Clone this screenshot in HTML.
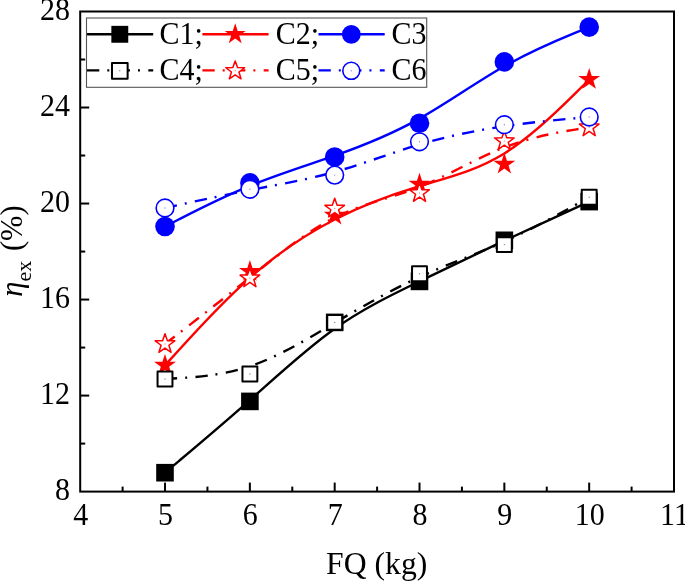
<!DOCTYPE html>
<html><head><meta charset="utf-8"><style>
html,body{margin:0;padding:0;background:#fff;width:685px;height:582px;overflow:hidden;}
svg{display:block;will-change:transform;}
text{font-family:"Liberation Serif",serif;}
</style></head><body>
<svg width="685" height="582" viewBox="0 0 685 582"><rect width="685" height="582" fill="#fff"/><path d="M165.00 472.70 C165.00 472.70 165.00 472.70 179.15 460.82 C193.30 448.93 221.60 425.17 249.88 400.12 C278.17 375.07 306.43 348.73 334.70 328.73 C362.97 308.73 391.23 295.07 419.51 281.38 C447.78 267.70 476.07 254.00 504.35 240.70 C532.63 227.40 560.92 214.50 575.06 208.05 C589.20 201.60 589.20 201.60 589.20 201.60" fill="none" stroke="#000" stroke-width="2.4"/>
<rect x="156.20" y="463.90" width="17.6" height="17.6" fill="#000"/>
<rect x="241.10" y="392.60" width="17.6" height="17.6" fill="#000"/>
<rect x="325.90" y="313.60" width="17.6" height="17.6" fill="#000"/>
<rect x="410.70" y="272.60" width="17.6" height="17.6" fill="#000"/>
<rect x="495.55" y="231.50" width="17.6" height="17.6" fill="#000"/>
<rect x="580.40" y="192.80" width="17.6" height="17.6" fill="#000"/>
<path d="M165.00 365.40 C165.00 365.40 165.00 365.40 179.15 349.75 C193.30 334.10 221.60 302.80 249.88 277.78 C278.17 252.77 306.43 234.03 334.70 219.48 C362.97 204.93 391.23 194.57 419.51 186.05 C447.78 177.53 476.07 170.87 504.35 153.42 C532.63 135.97 560.92 107.73 575.06 93.62 C589.20 79.50 589.20 79.50 589.20 79.50" fill="none" stroke="#f00" stroke-width="2.4"/>
<polygon points="165.00,353.90 167.58,361.85 175.94,361.85 169.18,366.76 171.76,374.70 165.00,369.79 158.24,374.70 160.82,366.76 154.06,361.85 162.42,361.85" fill="#f00"/>
<polygon points="249.90,260.00 252.48,267.95 260.84,267.95 254.08,272.86 256.66,280.80 249.90,275.89 243.14,280.80 245.72,272.86 238.96,267.95 247.32,267.95" fill="#f00"/>
<polygon points="334.70,203.80 337.28,211.75 345.64,211.75 338.88,216.66 341.46,224.60 334.70,219.69 327.94,224.60 330.52,216.66 323.76,211.75 332.12,211.75" fill="#f00"/>
<polygon points="419.50,172.70 422.08,180.65 430.44,180.65 423.68,185.56 426.26,193.50 419.50,188.59 412.74,193.50 415.32,185.56 408.56,180.65 416.92,180.65" fill="#f00"/>
<polygon points="504.35,152.70 506.93,160.65 515.29,160.65 508.53,165.56 511.11,173.50 504.35,168.59 497.59,173.50 500.17,165.56 493.41,160.65 501.77,160.65" fill="#f00"/>
<polygon points="589.20,68.00 591.78,75.95 600.14,75.95 593.38,80.86 595.96,88.80 589.20,83.89 582.44,88.80 585.02,80.86 578.26,75.95 586.62,75.95" fill="#f00"/>
<path d="M165.00 226.50 C165.00 226.50 165.00 226.50 179.15 219.23 C193.30 211.97 221.60 197.43 249.88 185.85 C278.17 174.27 306.43 165.63 334.70 155.68 C362.97 145.73 391.23 134.47 419.51 118.62 C447.78 102.77 476.07 82.33 504.35 66.32 C532.63 50.30 560.92 38.70 575.06 32.90 C589.20 27.10 589.20 27.10 589.20 27.10" fill="none" stroke="#00f" stroke-width="2.4"/>
<circle cx="165.00" cy="226.50" r="9.80" fill="#00f"/>
<circle cx="249.90" cy="182.90" r="9.80" fill="#00f"/>
<circle cx="334.70" cy="157.00" r="9.80" fill="#00f"/>
<circle cx="419.50" cy="123.20" r="9.80" fill="#00f"/>
<circle cx="504.35" cy="61.90" r="9.80" fill="#00f"/>
<circle cx="589.20" cy="27.10" r="9.80" fill="#00f"/>
<path d="M165.00 379.00 C165.00 379.00 165.00 379.00 179.15 378.17 C193.30 377.33 221.60 375.67 249.88 366.23 C278.17 356.80 306.43 339.60 334.70 322.90 C362.97 306.20 391.23 290.00 419.51 277.03 C447.78 264.07 476.07 254.33 504.35 241.57 C532.63 228.80 560.92 213.00 575.06 205.10 C589.20 197.20 589.20 197.20 589.20 197.20" fill="none" stroke="#000" stroke-width="2.4" stroke-dasharray="12.3 8 2 8.36"/>
<rect x="157.55" y="371.55" width="14.90" height="14.90" fill="#fff" stroke="#000" stroke-width="2.0" stroke-linejoin="round"/><circle cx="165.00" cy="379.00" r="0.7" fill="#888"/>
<rect x="242.45" y="366.55" width="14.90" height="14.90" fill="#fff" stroke="#000" stroke-width="2.0" stroke-linejoin="round"/><circle cx="249.90" cy="374.00" r="0.7" fill="#888"/>
<rect x="327.25" y="314.95" width="14.90" height="14.90" fill="#fff" stroke="#000" stroke-width="2.0" stroke-linejoin="round"/><circle cx="334.70" cy="322.40" r="0.7" fill="#888"/>
<rect x="412.05" y="266.35" width="14.90" height="14.90" fill="#fff" stroke="#000" stroke-width="2.0" stroke-linejoin="round"/><circle cx="419.50" cy="273.80" r="0.7" fill="#888"/>
<rect x="496.90" y="237.15" width="14.90" height="14.90" fill="#fff" stroke="#000" stroke-width="2.0" stroke-linejoin="round"/><circle cx="504.35" cy="244.60" r="0.7" fill="#888"/>
<rect x="581.75" y="189.75" width="14.90" height="14.90" fill="#fff" stroke="#000" stroke-width="2.0" stroke-linejoin="round"/><circle cx="589.20" cy="197.20" r="0.7" fill="#888"/>
<path d="M165.00 344.00 C165.00 344.00 165.00 344.00 179.15 333.05 C193.30 322.10 221.60 300.20 249.88 277.62 C278.17 255.03 306.43 231.77 334.70 217.55 C362.97 203.33 391.23 198.17 419.51 186.93 C447.78 175.70 476.07 158.40 504.35 147.45 C532.63 136.50 560.92 131.90 575.06 129.60 C589.20 127.30 589.20 127.30 589.20 127.30" fill="none" stroke="#f00" stroke-width="2.4" stroke-dasharray="12.3 8 2 8.36"/>
<polygon points="165.00,333.70 167.42,340.67 174.80,340.82 168.92,345.27 171.05,352.33 165.00,348.12 158.95,352.33 161.08,345.27 155.20,340.82 162.58,340.67" fill="#fff" stroke="#f00" stroke-width="1.5" stroke-linejoin="round"/><circle cx="165.00" cy="344.00" r="0.7" fill="#f88"/>
<polygon points="249.90,268.00 252.32,274.97 259.70,275.12 253.82,279.57 255.95,286.63 249.90,282.42 243.85,286.63 245.98,279.57 240.10,275.12 247.48,274.97" fill="#fff" stroke="#f00" stroke-width="1.5" stroke-linejoin="round"/><circle cx="249.90" cy="278.30" r="0.7" fill="#f88"/>
<polygon points="334.70,198.20 337.12,205.17 344.50,205.32 338.62,209.77 340.75,216.83 334.70,212.62 328.65,216.83 330.78,209.77 324.90,205.32 332.28,205.17" fill="#fff" stroke="#f00" stroke-width="1.5" stroke-linejoin="round"/><circle cx="334.70" cy="208.50" r="0.7" fill="#f88"/>
<polygon points="419.50,182.70 421.92,189.67 429.30,189.82 423.42,194.27 425.55,201.33 419.50,197.12 413.45,201.33 415.58,194.27 409.70,189.82 417.08,189.67" fill="#fff" stroke="#f00" stroke-width="1.5" stroke-linejoin="round"/><circle cx="419.50" cy="193.00" r="0.7" fill="#f88"/>
<polygon points="504.35,130.80 506.77,137.77 514.15,137.92 508.27,142.37 510.40,149.43 504.35,145.22 498.30,149.43 500.43,142.37 494.55,137.92 501.93,137.77" fill="#fff" stroke="#f00" stroke-width="1.5" stroke-linejoin="round"/><circle cx="504.35" cy="141.10" r="0.7" fill="#f88"/>
<polygon points="589.20,117.00 591.62,123.97 599.00,124.12 593.12,128.57 595.25,135.63 589.20,131.42 583.15,135.63 585.28,128.57 579.40,124.12 586.78,123.97" fill="#fff" stroke="#f00" stroke-width="1.5" stroke-linejoin="round"/><circle cx="589.20" cy="127.30" r="0.7" fill="#f88"/>
<path d="M165.00 208.00 C165.00 208.00 165.00 208.00 179.15 204.88 C193.30 201.77 221.60 195.53 249.88 190.05 C278.17 184.57 306.43 179.83 334.70 171.92 C362.97 164.00 391.23 152.90 419.51 144.50 C447.78 136.10 476.07 130.40 504.35 126.27 C532.63 122.13 560.92 119.57 575.06 118.28 C589.20 117.00 589.20 117.00 589.20 117.00" fill="none" stroke="#00f" stroke-width="2.4" stroke-dasharray="12.3 8 2 8.36"/>
<circle cx="165.00" cy="208.00" r="8.85" fill="#fff" stroke="#00f" stroke-width="1.6"/><circle cx="165.00" cy="208.00" r="0.7" fill="#88f"/>
<circle cx="249.90" cy="189.30" r="8.85" fill="#fff" stroke="#00f" stroke-width="1.6"/><circle cx="249.90" cy="189.30" r="0.7" fill="#88f"/>
<circle cx="334.70" cy="175.10" r="8.85" fill="#fff" stroke="#00f" stroke-width="1.6"/><circle cx="334.70" cy="175.10" r="0.7" fill="#88f"/>
<circle cx="419.50" cy="141.80" r="8.85" fill="#fff" stroke="#00f" stroke-width="1.6"/><circle cx="419.50" cy="141.80" r="0.7" fill="#88f"/>
<circle cx="504.35" cy="124.70" r="8.85" fill="#fff" stroke="#00f" stroke-width="1.6"/><circle cx="504.35" cy="124.70" r="0.7" fill="#88f"/>
<circle cx="589.20" cy="117.00" r="8.85" fill="#fff" stroke="#00f" stroke-width="1.6"/><circle cx="589.20" cy="117.00" r="0.7" fill="#88f"/>
<rect x="80.2" y="11.5" width="593.80" height="480.10" fill="none" stroke="#000" stroke-width="2"/>
<text transform="translate(80.70,524.5) scale(1,1.07)" font-size="30" text-anchor="middle" font-family="Liberation Serif, serif">4</text>
<line x1="165.03" y1="491.6" x2="165.03" y2="482.6" stroke="#000" stroke-width="2"/>
<text transform="translate(165.53,524.5) scale(1,1.07)" font-size="30" text-anchor="middle" font-family="Liberation Serif, serif">5</text>
<line x1="249.86" y1="491.6" x2="249.86" y2="482.6" stroke="#000" stroke-width="2"/>
<text transform="translate(250.36,524.5) scale(1,1.07)" font-size="30" text-anchor="middle" font-family="Liberation Serif, serif">6</text>
<line x1="334.69" y1="491.6" x2="334.69" y2="482.6" stroke="#000" stroke-width="2"/>
<text transform="translate(335.19,524.5) scale(1,1.07)" font-size="30" text-anchor="middle" font-family="Liberation Serif, serif">7</text>
<line x1="419.51" y1="491.6" x2="419.51" y2="482.6" stroke="#000" stroke-width="2"/>
<text transform="translate(420.01,524.5) scale(1,1.07)" font-size="30" text-anchor="middle" font-family="Liberation Serif, serif">8</text>
<line x1="504.34" y1="491.6" x2="504.34" y2="482.6" stroke="#000" stroke-width="2"/>
<text transform="translate(504.84,524.5) scale(1,1.07)" font-size="30" text-anchor="middle" font-family="Liberation Serif, serif">9</text>
<line x1="589.17" y1="491.6" x2="589.17" y2="482.6" stroke="#000" stroke-width="2"/>
<text transform="translate(589.67,524.5) scale(1,1.07)" font-size="30" text-anchor="middle" font-family="Liberation Serif, serif">10</text>
<text transform="translate(674.50,524.5) scale(1,1.07)" font-size="30" text-anchor="middle" font-family="Liberation Serif, serif">11</text>
<line x1="122.61" y1="491.6" x2="122.61" y2="486.6" stroke="#000" stroke-width="2"/>
<line x1="207.44" y1="491.6" x2="207.44" y2="486.6" stroke="#000" stroke-width="2"/>
<line x1="292.27" y1="491.6" x2="292.27" y2="486.6" stroke="#000" stroke-width="2"/>
<line x1="377.10" y1="491.6" x2="377.10" y2="486.6" stroke="#000" stroke-width="2"/>
<line x1="461.93" y1="491.6" x2="461.93" y2="486.6" stroke="#000" stroke-width="2"/>
<line x1="546.76" y1="491.6" x2="546.76" y2="486.6" stroke="#000" stroke-width="2"/>
<line x1="631.59" y1="491.6" x2="631.59" y2="486.6" stroke="#000" stroke-width="2"/>
<text transform="translate(69.9,499.90) scale(1,1.07)" font-size="30" text-anchor="end" font-family="Liberation Serif, serif">8</text>
<line x1="80.2" y1="395.58" x2="89.2" y2="395.58" stroke="#000" stroke-width="2"/>
<text transform="translate(69.9,403.88) scale(1,1.07)" font-size="30" text-anchor="end" font-family="Liberation Serif, serif">12</text>
<line x1="80.2" y1="299.56" x2="89.2" y2="299.56" stroke="#000" stroke-width="2"/>
<text transform="translate(69.9,307.86) scale(1,1.07)" font-size="30" text-anchor="end" font-family="Liberation Serif, serif">16</text>
<line x1="80.2" y1="203.54" x2="89.2" y2="203.54" stroke="#000" stroke-width="2"/>
<text transform="translate(69.9,211.84) scale(1,1.07)" font-size="30" text-anchor="end" font-family="Liberation Serif, serif">20</text>
<line x1="80.2" y1="107.52" x2="89.2" y2="107.52" stroke="#000" stroke-width="2"/>
<text transform="translate(69.9,115.82) scale(1,1.07)" font-size="30" text-anchor="end" font-family="Liberation Serif, serif">24</text>
<text transform="translate(69.9,19.80) scale(1,1.07)" font-size="30" text-anchor="end" font-family="Liberation Serif, serif">28</text>
<line x1="80.2" y1="443.59" x2="85.2" y2="443.59" stroke="#000" stroke-width="2"/>
<line x1="80.2" y1="347.57" x2="85.2" y2="347.57" stroke="#000" stroke-width="2"/>
<line x1="80.2" y1="251.55" x2="85.2" y2="251.55" stroke="#000" stroke-width="2"/>
<line x1="80.2" y1="155.53" x2="85.2" y2="155.53" stroke="#000" stroke-width="2"/>
<line x1="80.2" y1="59.51" x2="85.2" y2="59.51" stroke="#000" stroke-width="2"/>
<text x="326.1" y="574.2" font-size="31.7" font-family="Liberation Serif, serif">FQ (kg)</text>
<g transform="translate(22.2,296.7) rotate(-90)"><text x="0" y="0" font-size="30.5" font-style="italic" font-family="Liberation Serif, serif">η</text><text x="15.1" y="8.5" font-size="22" font-family="Liberation Serif, serif">ex</text><text x="45.6" y="0" font-size="30.5" font-family="Liberation Serif, serif">(%)</text></g>
<rect x="86.5" y="18.0" width="340.2" height="69.3" fill="#fff" stroke="#555" stroke-width="1.1"/>
<line x1="87.0" y1="34.3" x2="153.2" y2="34.3" stroke="#000" stroke-width="2.4"/>
<rect x="111.35" y="25.85" width="16.896" height="16.896" fill="#000"/>
<text transform="translate(159.5,43.8) scale(1,1.04)" font-size="30" font-family="Liberation Serif, serif">C1;</text>
<line x1="202.4" y1="34.3" x2="268.6" y2="34.3" stroke="#f00" stroke-width="2.4"/>
<polygon points="235.20,23.26 237.68,30.89 245.70,30.89 239.21,35.60 241.69,43.23 235.20,38.52 228.71,43.23 231.19,35.60 224.70,30.89 232.72,30.89" fill="#f00"/>
<text transform="translate(275.7,43.8) scale(1,1.04)" font-size="30" font-family="Liberation Serif, serif">C2;</text>
<line x1="318.5" y1="34.3" x2="384.7" y2="34.3" stroke="#00f" stroke-width="2.4"/>
<circle cx="351.30" cy="34.30" r="9.41" fill="#00f"/>
<text transform="translate(391.5,43.8) scale(1,1.04)" font-size="30" font-family="Liberation Serif, serif">C3</text>
<line x1="87.0" y1="70.4" x2="153.2" y2="70.4" stroke="#000" stroke-width="2.4" stroke-dasharray="12.3 8 2 8.36"/>
<rect x="111.98" y="62.98" width="15.65" height="15.65" fill="#fff" stroke="#000" stroke-width="2.0" stroke-linejoin="round"/><circle cx="119.80" cy="70.80" r="0.7" fill="#888"/>
<text transform="translate(159.5,80.2) scale(1,1.04)" font-size="30" font-family="Liberation Serif, serif">C4;</text>
<line x1="202.4" y1="70.4" x2="268.6" y2="70.4" stroke="#f00" stroke-width="2.4" stroke-dasharray="12.3 8 2 8.36"/>
<polygon points="235.20,60.91 237.52,67.60 244.60,67.74 238.96,72.02 241.01,78.80 235.20,74.76 229.39,78.80 231.44,72.02 225.80,67.74 232.88,67.60" fill="#fff" stroke="#f00" stroke-width="1.5" stroke-linejoin="round"/><circle cx="235.20" cy="70.80" r="0.7" fill="#f88"/>
<text transform="translate(275.7,80.2) scale(1,1.04)" font-size="30" font-family="Liberation Serif, serif">C5;</text>
<line x1="318.5" y1="70.4" x2="384.7" y2="70.4" stroke="#00f" stroke-width="2.4" stroke-dasharray="12.3 8 2 8.36"/>
<circle cx="351.30" cy="70.80" r="8.50" fill="#fff" stroke="#00f" stroke-width="1.6"/><circle cx="351.30" cy="70.80" r="0.7" fill="#88f"/>
<text transform="translate(391.5,80.2) scale(1,1.04)" font-size="30" font-family="Liberation Serif, serif">C6</text></svg>
</body></html>
